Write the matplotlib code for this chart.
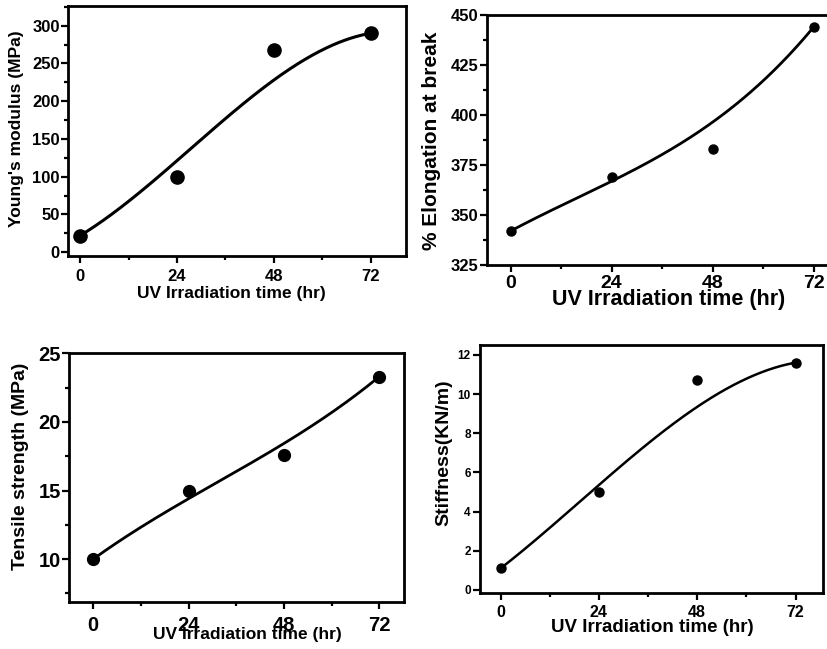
import numpy as np
import matplotlib
matplotlib.use("Agg")
import matplotlib.pyplot as plt
from matplotlib.ticker import MultipleLocator
from math import comb

plt.rcParams['font.family'] = ['Liberation Sans', 'DejaVu Sans']
plt.rcParams['font.weight'] = 'bold'

# data
time_hr = [0, 24, 48, 72]
youngs_modulus = [22, 100, 268, 290]
elongation = [342, 369, 383, 444]
tensile_strength = [10, 15, 17.6, 23.3]
stiffness = [1.1, 5.0, 10.7, 11.6]


def bspline(xs, ys, n=200):
    # Origin-style B-spline connection: points act as Bezier control points
    t = np.linspace(0, 1, n)
    k = len(xs) - 1
    bx = np.zeros(n)
    by = np.zeros(n)
    for i in range(k + 1):
        b = comb(k, i) * t**i * (1 - t)**(k - i)
        bx += b * xs[i]
        by += b * ys[i]
    return bx, by


fig = plt.figure(figsize=(8.27, 6.49), dpi=100)

panels = [
    dict(rect=[0.0822, 0.6055, 0.4087, 0.3852], y=youngs_modulus,
         ylabel="Young's modulus (MPa)", xlim=(-3, 80.7), ylim=(-5, 326),
         ymaj=50, ymin=25, xtfs=12, ytfs=12, xfs=12.5, yfs=12.5, ms=9.5, lw=2.2,
         xpad=4.3, ypad=1, xl=(0.484, -0.148), yl=(-0.151, 0.508)),
    dict(rect=[0.5885, 0.5917, 0.4244, 0.3852], y=elongation,
         ylabel="% Elongation at break", xlim=(-5.7, 77.7), ylim=(325, 450),
         ymaj=25, ymin=12.5, xtfs=14, ytfs=12, xfs=15.5, yfs=15, ms=6.5, lw=2.0,
         xpad=2.2, ypad=1, xl=(0.519, -0.14), yl=(-0.156, 0.496)),
    dict(rect=[0.0838, 0.0729, 0.4051, 0.3827], y=tensile_strength,
         ylabel="Tensile strength (MPa)", xlim=(-6, 78.3), ylim=(6.9, 25),
         ymaj=5, ymin=2.5, xtfs=14.5, ytfs=14.5, xfs=12.5, yfs=14, ms=8.5, lw=2.0,
         xpad=5.5, ypad=1, xl=(0.532, -0.134), yl=(-0.147, 0.546)),
    dict(rect=[0.5800, 0.0858, 0.4151, 0.3826], y=stiffness,
         ylabel="Stiffness(KN/m)", xlim=(-5.1, 78.7), ylim=(-0.17, 12.5),
         ymaj=2, ymin=None, xtfs=11.5, ytfs=8.5, xfs=13.5, yfs=14, ms=6.5, lw=1.8,
         xpad=3.6, ypad=1.5, xl=(0.502, -0.136), yl=(-0.104, 0.565)),
]

for p in panels:
    ax = fig.add_axes(p['rect'])
    cx, cy = bspline(time_hr, p['y'])
    ax.plot(cx, cy, color='black', lw=p['lw'], zorder=2)
    ax.plot(time_hr, p['y'], 'o', color='black', ms=p['ms'], zorder=3, clip_on=False)
    ax.set_xlim(*p['xlim'])
    ax.set_ylim(*p['ylim'])
    ax.set_xticks(time_hr)
    ax.xaxis.set_minor_locator(MultipleLocator(12))
    ax.yaxis.set_major_locator(MultipleLocator(p['ymaj']))
    if p['ymin']:
        ax.yaxis.set_minor_locator(MultipleLocator(p['ymin']))
    for s in ax.spines.values():
        s.set_linewidth(2)
    ax.tick_params(which='major', direction='out', length=5, width=1.6)
    ax.tick_params(axis='x', which='major', pad=p['xpad'], labelsize=p['xtfs'])
    ax.tick_params(axis='y', which='major', pad=p['ypad'], labelsize=p['ytfs'])
    ax.tick_params(which='minor', direction='out', length=3, width=1.6)
    ax.set_xlabel("UV Irradiation time (hr)", fontsize=p['xfs'], fontweight='bold')
    ax.set_ylabel(p['ylabel'], fontsize=p['yfs'], fontweight='bold')
    ax.xaxis.label.set_verticalalignment('center')
    ax.yaxis.label.set_verticalalignment('center')
    ax.xaxis.set_label_coords(*p['xl'])
    ax.yaxis.set_label_coords(*p['yl'])

fig.savefig("out.png", dpi=100)
